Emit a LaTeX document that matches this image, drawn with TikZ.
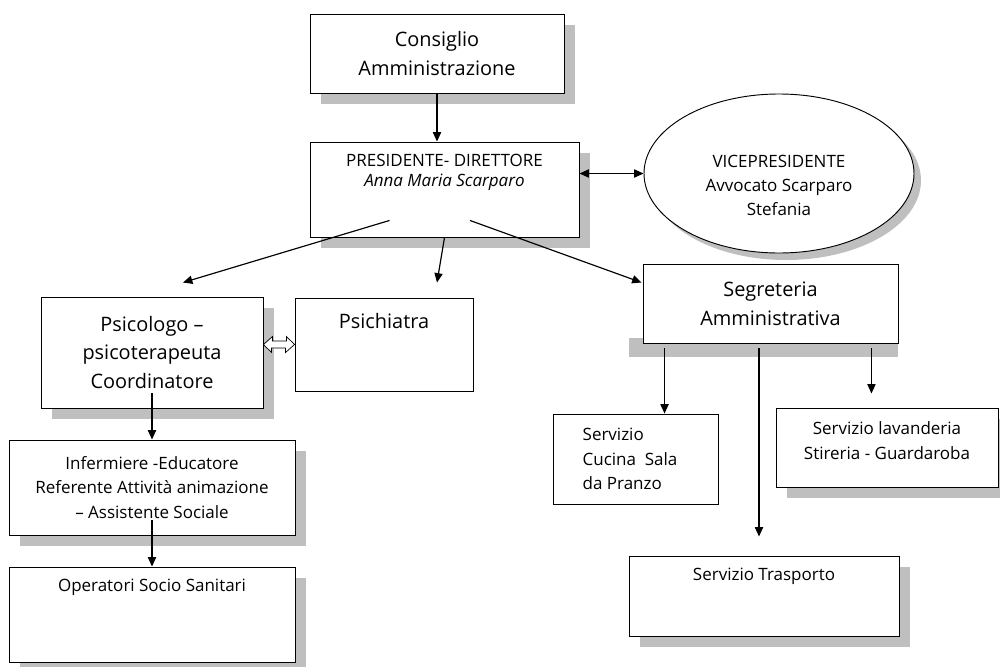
\documentclass[tikz,border=0pt]{standalone}
\usepackage{fontspec}
\setmainfont{Open Sans}
\usetikzlibrary{positioning,calc,arrows.meta,shapes.geometric,shadows}
\newcommand{\pxu}{0.03cm}

\begin{document}
\begin{tikzpicture}[x=0.03cm,y=-0.03cm,
    box/.style={draw,line width=0.8pt,fill=white,inner sep=0pt},
    shd/.style={drop shadow={shadow xshift=0.32cm,shadow yshift=-0.32cm,fill=black!25,opacity=1}},
    big/.style={align=center,font=\fontsize{17}{24.5}\selectfont},
    sml/.style={align=center,font=\fontsize{14.5}{20.8}\selectfont},
    arr/.style={-{Triangle[length=8pt,width=7pt]},line width=1pt}]
    \useasboundingbox (0,0) rectangle (1000,666);
    \node[box,shd,minimum width=254*\pxu,minimum height=79*\pxu,big] (cons) at (437,53.5) {Consiglio\\Amministrazione};
    \node[box,shd,minimum width=269*\pxu,minimum height=95*\pxu] (pres) at (444.5,189.5) {};
    \node[sml,font=\fontsize{14.5}{17}\selectfont] (pres_t) at ($(pres.north)+(0,31)$) {PRESIDENTE- DIRETTORE\\\textit{Anna Maria Scarparo}};
    \node[box,ellipse,drop shadow={shadow xshift=0.21cm,shadow yshift=-0.21cm,fill=black!25,opacity=1},minimum width=270*\pxu,minimum height=159*\pxu] (vice) at (779,173.5) {};
    \node[sml] (vice_t) at ($(vice.center)+(0,12)$) {VICEPRESIDENTE\\Avvocato Scarparo\\Stefania};
    \node[box,shd,minimum width=222*\pxu,minimum height=111*\pxu,big] (psi) at (152,352.5) {Psicologo --\\psicoterapeuta\\Coordinatore};
    \node[box,minimum width=178*\pxu,minimum height=93*\pxu] (psich) at (384,344.5) {};
    \node[big] (psich_t) at ($(psich.north)+(0,23)$) {Psichiatra};
    \node[box,shd,minimum width=286*\pxu,minimum height=95*\pxu,sml] (inf) at (152,487.5) {Infermiere -Educatore\\Referente Attività animazione\\-- Assistente Sociale};
    \node[box,shd,minimum width=286*\pxu,minimum height=95*\pxu] (oss) at (152,614.5) {};
    \node[sml] (oss_t) at ($(oss.north)+(0,21)$) {Operatori Socio Sanitari};
    \fill[black!25] (629,338) rectangle (898,357);
    \node[box,minimum width=255*\pxu,minimum height=79*\pxu,big] (seg) at (770.5,303.5) {Segreteria\\Amministrativa};
    \node[box,minimum width=165*\pxu,minimum height=90*\pxu] (cuc) at (635.5,459) {};
    \node[sml,align=left,anchor=west] (cuc_t) at ($(cuc.west)+(26,0)$) {Servizio\\ Cucina\ \ Sala\\ da Pranzo};
    \node[box,shd,minimum width=222*\pxu,minimum height=79*\pxu] (lav) at (887,447.5) {};
    \node[sml] (lav_t) at ($(lav.north)+(0,33)$) {Servizio lavanderia\\Stireria - Guardaroba};
    \node[box,shd,minimum width=270*\pxu,minimum height=80*\pxu] (tra) at (764,596) {};
    \node[sml] (tra_t) at ($(tra.north)+(0,21)$) {Servizio Trasporto};
    \coordinate (p1) at ($(pres.south)+(-55,-17)$);
    \coordinate (p3) at ($(pres.south)+(25.5,-17)$);
    \coordinate (q1) at ($(psi.north)+(31,-14)$);
    \coordinate (q2) at ($(psich.north)+(53,-15)$);
    \coordinate (q3) at ($(seg.north west)+(-1,19)$);
    \coordinate (s1) at ($(seg.south west)+(22,5)$);
    \coordinate (s2) at ($(seg.south)+(-11.5,5)$);
    \coordinate (s3) at ($(seg.south east)+(-27,5)$);
    \coordinate (h) at (psich.west -| psi.east);
    \draw[arr] (cons.south) -- (cons.south |- pres.north);
    \draw[arr,{Triangle[length=8pt,width=7pt]}-{Triangle[length=8pt,width=7pt]}] (vice.west -| pres.east) -- (vice.west);
    \draw[arr] (p1) -- (q1);
    \draw[arr] (pres.south) -- (q2);
    \draw[arr] (p3) -- (q3);
    \draw[line width=0.6pt,fill=white] (h) -- ++(9,-8) -- ++(0,4.5) -- ++(14,0) -- ++(0,-4.5)
        -- (psich.west) -- ++(-9,8) -- ++(0,-4.5) -- ++(-14,0) -- ++(0,4.5) -- cycle;
    \draw[arr] ($(psi.south)+(0,-15)$) -- (inf.north);
    \draw[arr] ($(inf.south)+(0,-15)$) -- (oss.north);
    \draw[arr] (s1) -- (s1 |- cuc.north);
    \draw[arr] (s2) -- ($(s2 |- tra.north)+(0,-19)$);
    \draw[arr] (s3) -- ($(s3 |- lav.north)+(0,-14)$);
\end{tikzpicture}
\end{document}
